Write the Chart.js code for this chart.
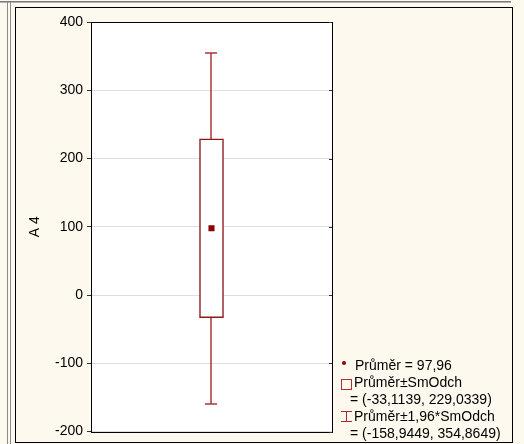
<!DOCTYPE html>
<html>
<head>
<meta charset="utf-8">
<script src="https://cdn.jsdelivr.net/npm/chart.js@4/dist/chart.umd.min.js"></script>
<style>
  html, body { margin:0; padding:0; }
  body { width:524px; height:444px; background:#fdf9ee; position:relative; overflow:hidden;
         font-family:"Liberation Sans", Arial, sans-serif; }
  .abs { position:absolute; }
  #topline1 { left:0; top:1px; width:511px; height:1px; background:#7a7a7a; }
  #topline2 { left:0; top:2px; width:511px; height:1px; background:#b0b0b0; }
  #vl1 { left:7px; top:2px; width:1px; height:442px; background:#8a8a8a; }
  #vl2 { left:10px; top:2px; width:1px; height:442px; background:#8a8a8a; }
  #panel { left:15px; top:7px; width:496px; height:434px; border:1px solid #000; }
  #chartwrap { left:0; top:0; width:524px; height:444px; }
  .lg { position:absolute; font-size:14px; line-height:16px; color:#000; white-space:nowrap; }
  #lgdot { left:342px; top:361px; width:4px; height:4px; border-radius:50%; background:#8b0000; }
  #lgbox { left:341px; top:379px; width:9px; height:9px; border:1px solid #b03030; }
  #lgcapT { left:341px; top:411px; width:11px; height:1px; background:#b02828; }
  #lgcapB { left:341px; top:421px; width:11px; height:1px; background:#b02828; }
  #lgstem { left:346px; top:411px; width:1px; height:11px; background:#b02828; }
</style>
</head>
<body>
<div class="abs" id="topline1"></div>
<div class="abs" id="topline2"></div>
<div class="abs" id="vl1"></div>
<div class="abs" id="vl2"></div>
<div class="abs" id="panel"></div>
<div class="abs" id="chartwrap"><canvas id="c" width="524" height="444"></canvas></div>
<div class="abs" id="lgdot"></div>
<div class="abs" id="lgbox"></div>
<div class="abs" id="lgcapT"></div>
<div class="abs" id="lgcapB"></div>
<div class="abs" id="lgstem"></div>
<div class="lg" id="l1" style="left:355px;top:357px;"></div>
<div class="lg" id="l2" style="left:354px;top:374px;"></div>
<div class="lg" id="l3" style="left:350px;top:391px;"></div>
<div class="lg" id="l4" style="left:354px;top:408px;"></div>
<div class="lg" id="l5" style="left:350px;top:425px;"></div>
<script>
// ---- data ----
const categories = ['A 4'];
const means = [97.96];
const boxLow = [-33.1139];
const boxHigh = [229.0339];
const whiskerLow = [-158.9449];
const whiskerHigh = [354.8649];
const yTicks = [-200, -100, 0, 100, 200, 300, 400];
const yTitle = 'A 4';

const fmt = (v, d) => v.toFixed(d).replace('.', ',');
document.getElementById('l1').textContent = 'Průměr = ' + fmt(means[0], 2);
document.getElementById('l2').textContent = 'Průměr±SmOdch';
document.getElementById('l3').textContent = '= (' + fmt(boxLow[0], 4) + ', ' + fmt(boxHigh[0], 4) + ')';
document.getElementById('l4').textContent = 'Průměr±1,96*SmOdch';
document.getElementById('l5').textContent = '= (' + fmt(whiskerLow[0], 4) + ', ' + fmt(whiskerHigh[0], 4) + ')';

const FONT = '"Liberation Sans", Arial, sans-serif';

const plotBg = {
  id: 'plotBg',
  beforeDraw(chart) {
    const {ctx, chartArea: a} = chart;
    ctx.save();
    ctx.fillStyle = '#ffffff';
    ctx.fillRect(a.left, a.top, a.right - a.left, a.bottom - a.top);
    ctx.restore();
  },
  afterDraw(chart) {
    const {ctx, chartArea: a} = chart;
    const y = chart.scales.y;
    ctx.save();
    ctx.strokeStyle = '#000';
    ctx.lineWidth = 1;
    ctx.strokeRect(Math.round(a.left) + 0.5, Math.round(a.top) + 0.5,
                   Math.round(a.right - a.left) , Math.round(a.bottom - a.top));
    ctx.strokeStyle = '#333';
    y.ticks.forEach(t => {
      const py = Math.round(y.getPixelForValue(t.value)) + 0.5;
      ctx.beginPath();
      ctx.moveTo(a.right - 3, py);
      ctx.lineTo(a.right, py);
      ctx.stroke();
    });
    ctx.restore();
  }
};

const whiskers = {
  id: 'whiskers',
  beforeDatasetsDraw(chart) {
    const {ctx} = chart;
    const x = chart.scales.x, y = chart.scales.y;
    ctx.save();
    ctx.strokeStyle = '#a8383a';
    ctx.lineWidth = 1.5;
    categories.forEach((c, i) => {
      const px = Math.round(x.getPixelForValue(i)) - 1;
      const yt = Math.round(y.getPixelForValue(whiskerHigh[i]));
      const yb = Math.round(y.getPixelForValue(whiskerLow[i]));
      ctx.beginPath();
      ctx.moveTo(px, yt); ctx.lineTo(px, yb);
      ctx.moveTo(px - 6, yt); ctx.lineTo(px + 6, yt);
      ctx.moveTo(px - 6, yb); ctx.lineTo(px + 6, yb);
      ctx.stroke();
    });
    ctx.restore();
  }
};

new Chart(document.getElementById('c'), {
  type: 'bar',
  data: {
    labels: categories,
    datasets: [
      {
        type: 'line',
        label: 'Průměr',
        data: means,
        showLine: false,
        pointStyle: 'rect',
        pointRadius: 4.3,
        pointBackgroundColor: '#8b0000',
        pointBorderColor: '#8b0000',
        pointBorderWidth: 0,
        order: 0
      },
      {
        type: 'bar',
        label: 'Průměr±SmOdch',
        data: categories.map((c, i) => [boxLow[i], boxHigh[i]]),
        backgroundColor: '#ffffff',
        borderColor: '#8b1a1a',
        borderWidth: 1.5,
        borderSkipped: false,
        barThickness: 24,
        grouped: false,
        order: 1
      }
    ]
  },
  options: {
    responsive: false,
    animation: false,
    devicePixelRatio: 1,
    layout: { padding: { left: 0, top: 22, right: 192, bottom: 11 } },
    plugins: { legend: { display: false }, tooltip: { enabled: false } },
    scales: {
      x: { display: false },
      y: {
        min: -200, max: 400,
        afterBuildTicks(s) { s.ticks = yTicks.map(v => ({ value: v })); },
        afterFit(s) { s.width = 91; },
        ticks: { color: '#000', font: { family: FONT, size: 14 }, padding: 4 },
        grid: { color: '#dedede', tickColor: '#333', tickLength: 4, lineWidth: 1 },
        border: { display: true, color: '#000', width: 1 },
        title: {
          display: true, text: yTitle, color: '#000',
          font: { family: FONT, size: 14 },
          padding: { top: 27, bottom: 0 }
        }
      }
    }
  },
  plugins: [plotBg, whiskers]
});
</script>
</body>
</html>
